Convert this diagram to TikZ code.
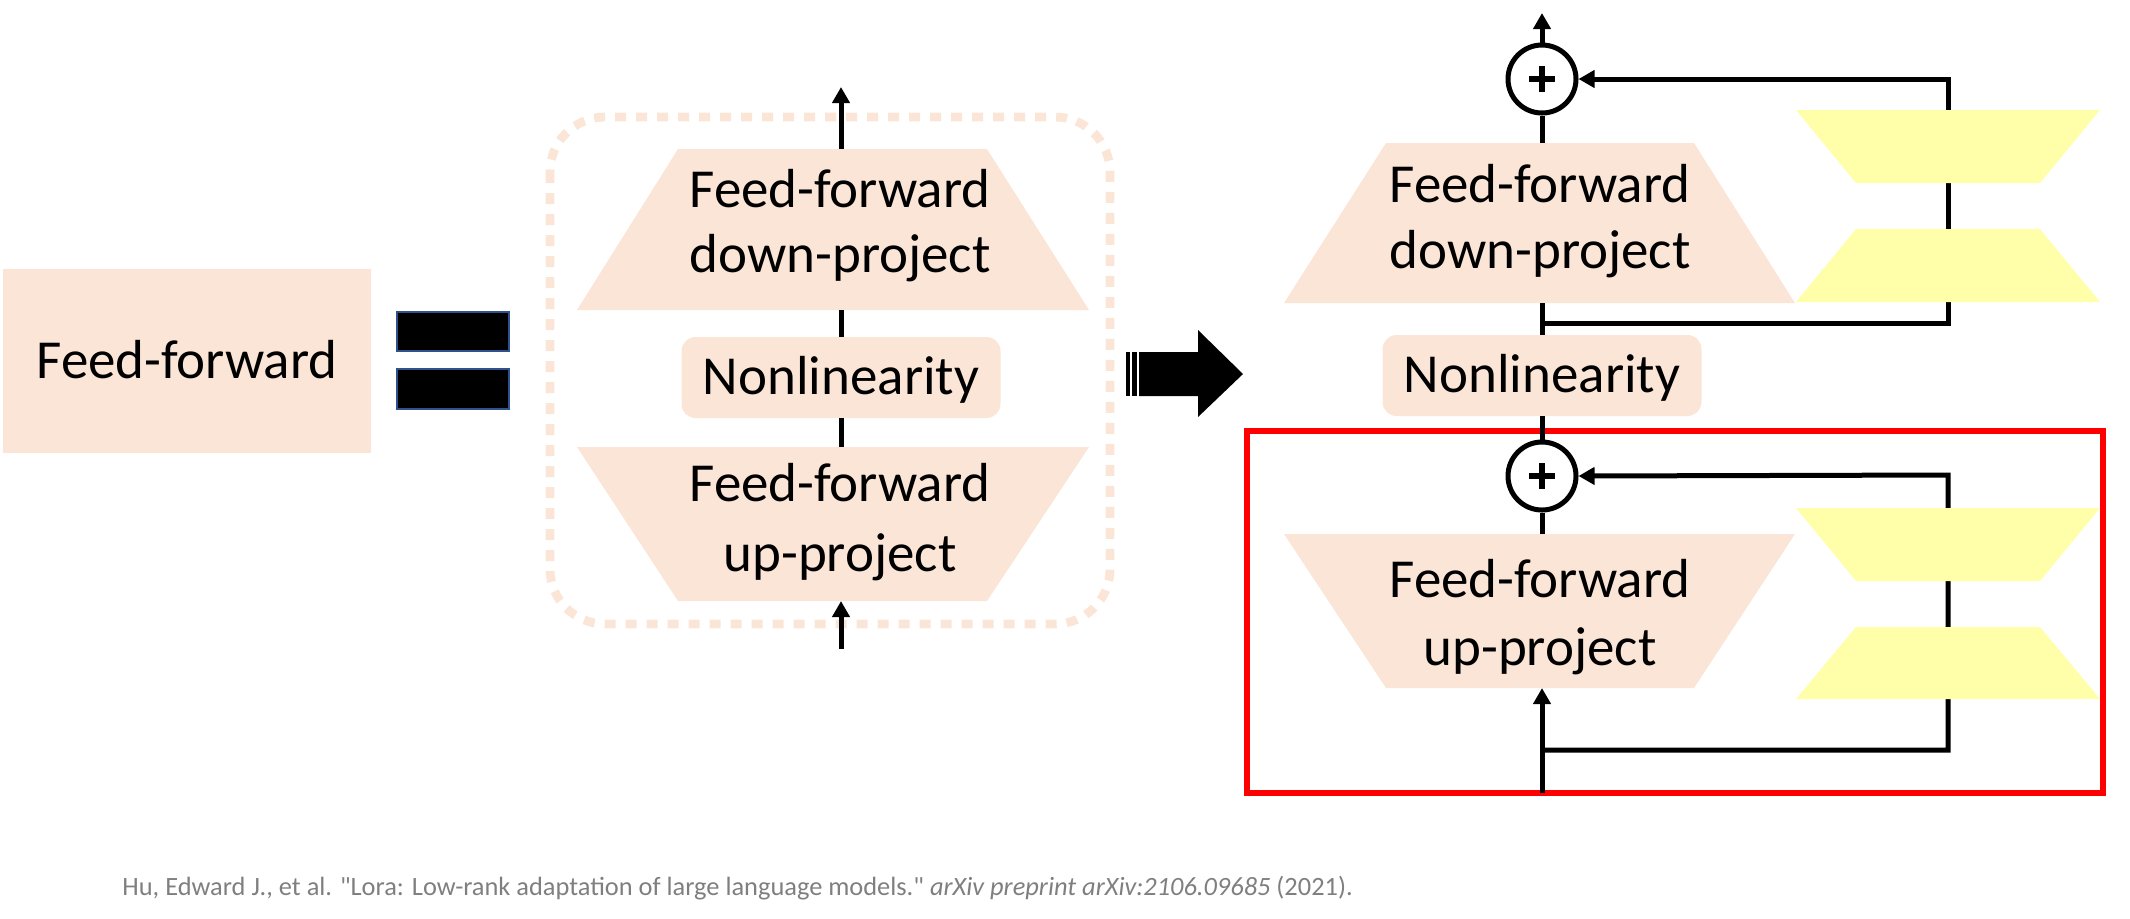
\documentclass[tikz,border=0pt]{standalone}
\usepackage{fontspec}
\setmainfont{Carlito}
\newfontfamily\citefont{Carlito}
\usetikzlibrary{arrows.meta}
\definecolor{peach}{HTML}{FBE5D6}
\definecolor{lyellow}{RGB}{255,255,170}
\definecolor{eqblue}{HTML}{2F528F}
\definecolor{citegray}{HTML}{7F7F7F}
\definecolor{boxred}{HTML}{FF0000}
\begin{document}
\begin{tikzpicture}[x=0.5pt,y=-0.5pt,
  lbl/.style={font=\fontsize{27.5}{33}\selectfont, inner sep=0pt, anchor=base},
  ln/.style={line width=2.5pt, black},
  arr/.style={ln, -{Triangle[length=8pt,width=8.5pt]}},
  sumnode/.style={circle, draw=black, line width=2.5pt, minimum size=34pt, inner sep=0pt, fill=white},
  plusbar/.style={line width=2.6pt, black},
  nlbox/.style={fill=peach, rounded corners=7pt, minimum width=159.5pt, minimum height=40.5pt, inner sep=0pt, text height=18.5pt, text depth=1.5pt, font=\fontsize{27.5}{33}\selectfont},
  eqbar/.style={fill=black, draw=eqblue, line width=1.2pt},
  trap/.style={fill=peach},
  ytrap/.style={fill=lyellow}
]
\useasboundingbox (0,0) rectangle (2130,918);

% ---------- left: Feed-forward box ----------
\node[fill=peach, minimum width=184pt, minimum height=92pt, inner sep=0pt, text height=18.5pt, text depth=1pt, font=\fontsize{27.5}{33}\selectfont] (ff) at (187,361) {Feed-forward};

% equal sign
\draw[eqbar] (397,312) rectangle (509,351);
\draw[eqbar] (397,369) rectangle (509,409);

% ---------- middle ----------
\draw[peach, line width=4.4pt, dash pattern=on 5.5pt off 5pt, rounded corners=27.5pt] (550,117) rectangle (1110,624);

\fill[trap] (678,149) -- (987,149) -- (1089,310) -- (577,310) -- cycle;
\fill[trap] (577,447) -- (1089,447) -- (987,601) -- (678,601) -- cycle;
\coordinate (mDt) at (841,149);
\coordinate (mDb) at (841,310);
\coordinate (mUt) at (841,447);
\coordinate (mUb) at (841,601);
\coordinate (mTop) at (841,87);
\coordinate (mIn) at (841,649);

\node[lbl] (mD1) at (840,207) {Feed-forward};
\node[lbl] (mD2) at (840,272) {down-project};
\node[nlbox] (mNL) at (841,377.5) {Nonlinearity};
\node[lbl] (mU1) at (840,501) {Feed-forward};
\node[lbl] (mU2) at (840,571) {up-project};

\draw[arr] (mDt) -- (mTop);
\draw[ln] (mDb) -- (mNL.north);
\draw[ln] (mNL.south) -- (mUt);
\draw[arr] (mIn) -- (mUb);

% ---------- big arrow ----------
\fill[black] (1126,352) rectangle (1130,396);
\fill[black] (1132,352) rectangle (1137,396);
\fill[black] (1139,352) -- (1198,352) -- (1198,330) -- (1243,374) -- (1198,417) -- (1198,396) -- (1139,396) -- cycle;

% ---------- right ----------
\draw[boxred, line width=2.6pt] (1247,431) rectangle (2103,793);

\fill[trap] (1386,143) -- (1694,143) -- (1795,303) -- (1284,303) -- cycle;
\fill[trap] (1284,534) -- (1795,534) -- (1694,688) -- (1386,688) -- cycle;
\coordinate (rDt) at (1542,143);
\coordinate (rDb) at (1542,303);
\coordinate (rUt) at (1542,534);
\coordinate (rUb) at (1542,688);
\coordinate (rTop) at (1542,13);
\coordinate (rIn) at (1542,793);
\coordinate (j1) at (1542,323);
\coordinate (k1) at (1948,323);
\coordinate (k1t) at (1948,79);
\coordinate (j2) at (1542,750);
\coordinate (k2) at (1948,750);
\coordinate (k2t) at (1948,475);

\node[sumnode] (s1) at (1542,79) {};
\node[sumnode] (s2) at (1542,476) {};
\draw[plusbar] ([xshift=-6.5pt]s1.center) -- ([xshift=6.5pt]s1.center);
\draw[plusbar] ([yshift=-6.5pt]s1.center) -- ([yshift=6.5pt]s1.center);
\draw[plusbar] ([xshift=-6.5pt]s2.center) -- ([xshift=6.5pt]s2.center);
\draw[plusbar] ([yshift=-6.5pt]s2.center) -- ([yshift=6.5pt]s2.center);

\node[lbl] (rD1) at (1540,202) {Feed-forward};
\node[lbl] (rD2) at (1540,268) {down-project};
\node[nlbox] (rNL) at (1542,375.5) {Nonlinearity};
\node[lbl] (rU1) at (1540,597) {Feed-forward};
\node[lbl] (rU2) at (1540,665) {up-project};

\draw[arr] (s1.north) -- (rTop);
\draw[ln] (s1.south) -- (rDt);
\draw[ln] (rDb) -- (rNL.north);
\draw[ln] (rNL.south) -- (s2.north);
\draw[ln] (s2.south) -- (rUt);
\draw[arr] (rIn) -- (rUb);
\draw[arr, line join=miter] (j1) -- (k1) -- (k1t) -- (s1.east);
\draw[arr, line join=miter] (j2) -- (k2) -- (k2t) -- (s2.east);

% LoRA trapezoids
\fill[ytrap] (1796,110) -- (2100,110) -- (2040,183) -- (1856,183) -- cycle;
\fill[ytrap] (1856,229) -- (2040,229) -- (2100,302) -- (1796,302) -- cycle;
\fill[ytrap] (1796,508) -- (2100,508) -- (2040,581) -- (1856,581) -- cycle;
\fill[ytrap] (1856,627) -- (2040,627) -- (2100,699) -- (1796,699) -- cycle;

% ---------- citation ----------
\node[anchor=base west, inner sep=0pt, text=citegray, font=\citefont\fontsize{13.2}{15}\selectfont] (cite) at (122,895) {Hu, Edward J., et al. "Lora: Low-rank adaptation of large language models." \textit{arXiv preprint arXiv:2106.09685} (2021).};
\end{tikzpicture}
\end{document}
